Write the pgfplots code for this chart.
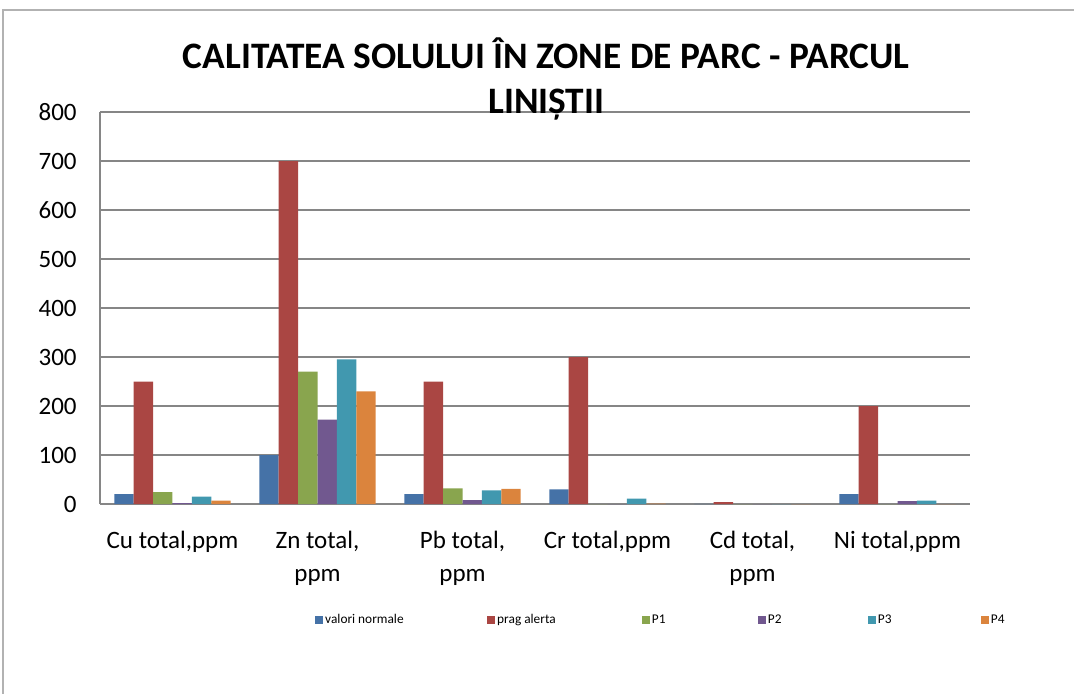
\documentclass[border=0pt]{standalone}
\usepackage{pgfplots}
\pgfplotsset{compat=1.18}
\usepackage{fontspec}
\setmainfont{Carlito}
\definecolor{cvn}{HTML}{4572A7}
\definecolor{cpa}{HTML}{AA4643}
\definecolor{cp1}{HTML}{89A54E}
\definecolor{cp2}{HTML}{71588F}
\definecolor{cp3}{HTML}{4198AF}
\definecolor{cp4}{HTML}{DB843D}
\definecolor{gridc}{HTML}{868686}
\begin{document}
\begin{tikzpicture}
\useasboundingbox (-75pt,-141.75pt) rectangle (730.5pt,378pt);
\draw[gray!60, line width=1.2pt] (-72.75pt,-160pt) -- (-72.75pt,370.5pt) -- (760pt,370.5pt);
\begin{axis}[
    at={(0,0)}, anchor=south west,
    scale only axis, width=652.5pt, height=294pt,
    ybar=0pt, bar width=14.55pt,
    xmin=-0.5, xmax=5.5, ymin=0, ymax=800,
    xtick={0,1,2,3,4,5},
    xticklabels={{Cu total,ppm}, {Zn total,\\ppm}, {Pb total,\\ppm}, {Cr total,ppm}, {Cd total,\\ppm}, {Ni total,ppm}},
    ytick={0,100,...,800},
    major tick length=0pt,
    axis x line*=bottom, axis y line*=left,
    axis line style={gridc, line width=1.5pt},
    ymajorgrids, grid style={gridc, line width=1.5pt},
    /pgf/number format/assume math mode=true,
    tick label style={font=\fontsize{18.75}{24.75}\selectfont},
    xticklabel style={align=center, yshift=-17pt},
    yticklabel style={xshift=-14pt},
    title={CALITATEA SOLULUI ÎN ZONE DE PARC - PARCUL\\LINIȘTII},
    title style={at={(axis description cs:0.513,1)}, anchor=south, yshift=-15.5pt,
        align=center, font=\fontsize{28}{33.75}\selectfont\bfseries},
    every axis plot post/.append style={draw=none,
        legend image code/.code={\fill[##1] (0pt,-3pt) rectangle (6pt,3pt);}},
    legend columns=6,
    legend style={at={(axis description cs:0.2425,-0.296)}, anchor=west, draw=none,
        font=\fontsize{10}{11}\selectfont, column sep=0pt,
        nodes={inner sep=1.5pt}},
    legend cell align=left,
]
\addplot[fill=cvn] coordinates {(0,20) (1,100) (2,20) (3,30) (4,0.3) (5,20)};
\addplot[fill=cpa] coordinates {(0,250) (1,700) (2,250) (3,300) (4,4) (5,200)};
\addplot[fill=cp1] coordinates {(0,24) (1,270) (2,32) (3,0) (4,0) (5,0)};
\addplot[fill=cp2] coordinates {(0,2) (1,172) (2,8) (3,0) (4,0) (5,6)};
\addplot[fill=cp3] coordinates {(0,15) (1,295) (2,28) (3,11) (4,0) (5,7)};
\addplot[fill=cp4] coordinates {(0,7) (1,230) (2,31) (3,1) (4,0) (5,0)};
\addlegendentry{\makebox[120pt][l]{valori normale}}
\addlegendentry{\makebox[107pt][l]{prag alerta}}
\addlegendentry{\makebox[78pt][l]{P1}}
\addlegendentry{\makebox[73.5pt][l]{P2}}
\addlegendentry{\makebox[75.75pt][l]{P3}}
\addlegendentry{P4}
\end{axis}
\end{tikzpicture}
\end{document}
